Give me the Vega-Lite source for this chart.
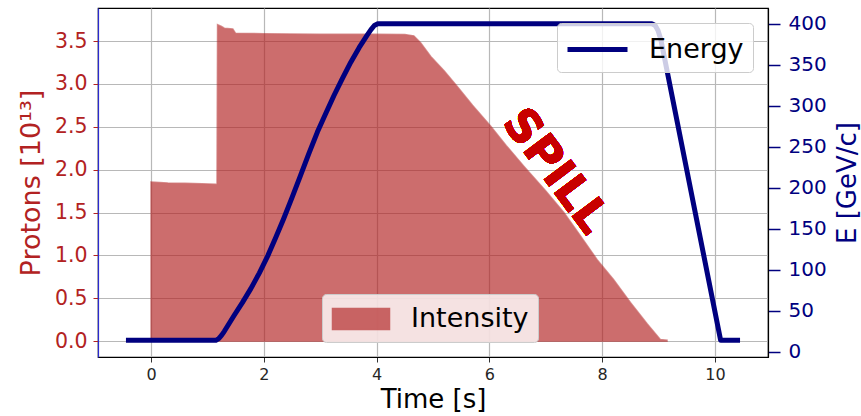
{
  "$schema": "https://vega.github.io/schema/vega-lite/v6.json",
  "width": 670,
  "height": 349,
  "autosize": {"type": "none"},
  "padding": {"left": 98, "top": 8, "right": 93, "bottom": 59},
  "config": {
    "font": "DejaVu Sans",
    "view": {"stroke": "black", "strokeWidth": 1.2},
    "axis": {"gridColor": "#b8b8b8", "gridWidth": 1.2, "labelFont": "DejaVu Sans", "titleFont": "DejaVu Sans", "titleFontWeight": "normal"},
    "legend": {"labelFont": "DejaVu Sans"}
  },
  "datasets": {
    "intensity": [
      {"t": 0.0, "p": 1.855}, {"t": 0.3, "p": 1.845}, {"t": 0.6, "p": 1.84}, {"t": 0.9, "p": 1.835},
      {"t": 1.17, "p": 1.83}, {"t": 1.18, "p": 3.69}, {"t": 1.25, "p": 3.67}, {"t": 1.3, "p": 3.65},
      {"t": 1.45, "p": 3.64}, {"t": 1.5, "p": 3.59}, {"t": 2.0, "p": 3.585}, {"t": 3.0, "p": 3.58},
      {"t": 4.0, "p": 3.58}, {"t": 4.5, "p": 3.575}, {"t": 4.66, "p": 3.56}, {"t": 4.78, "p": 3.48},
      {"t": 4.96, "p": 3.32}, {"t": 5.2, "p": 3.15}, {"t": 5.43, "p": 2.97}, {"t": 5.7, "p": 2.75},
      {"t": 6.02, "p": 2.51}, {"t": 6.3, "p": 2.28}, {"t": 6.61, "p": 2.04}, {"t": 7.0, "p": 1.75},
      {"t": 7.32, "p": 1.5}, {"t": 7.6, "p": 1.24}, {"t": 7.91, "p": 0.95}, {"t": 8.2, "p": 0.72},
      {"t": 8.5, "p": 0.45}, {"t": 8.8, "p": 0.2}, {"t": 9.03, "p": 0.02}, {"t": 9.15, "p": 0.01}
    ],
    "energy": [
      {"t": -0.4, "E": 14}, {"t": 1.15, "E": 14}, {"t": 1.2, "E": 16}, {"t": 1.25, "E": 20},
      {"t": 1.3, "E": 25}, {"t": 1.47, "E": 44}, {"t": 1.62, "E": 60}, {"t": 1.77, "E": 77},
      {"t": 1.92, "E": 96}, {"t": 2.07, "E": 117}, {"t": 2.21, "E": 139}, {"t": 2.35, "E": 162},
      {"t": 2.5, "E": 188}, {"t": 2.65, "E": 215}, {"t": 2.8, "E": 242}, {"t": 2.95, "E": 268},
      {"t": 3.1, "E": 291}, {"t": 3.24, "E": 312}, {"t": 3.39, "E": 333}, {"t": 3.54, "E": 353},
      {"t": 3.69, "E": 371}, {"t": 3.83, "E": 386}, {"t": 3.9, "E": 393}, {"t": 3.96, "E": 398},
      {"t": 4.02, "E": 400}, {"t": 8.88, "E": 400}, {"t": 8.94, "E": 398}, {"t": 8.99, "E": 392},
      {"t": 9.04, "E": 381}, {"t": 10.1, "E": 14}, {"t": 10.4, "E": 14}
    ]
  },
  "layer": [
    {
      "data": {"name": "intensity"},
      "layer": [
        {
          "mark": {"type": "area", "opacity": 0.66, "stroke": "#b22222", "strokeOpacity": 0.75, "strokeWidth": 1.5},
          "encoding": {
            "x": {
              "field": "t", "type": "quantitative",
              "scale": {"domain": [-0.94, 10.94], "nice": false, "zero": false},
              "axis": {
                "values": [0, 2, 4, 6, 8, 10], "format": "d", "labelFontSize": 16, "labelColor": "#262626",
                "tickColor": "#333333", "tickSize": 5, "labelPadding": 4, "labelFlush": false,
                "title": "Time [s]", "titleFontSize": 26, "titleColor": "black", "titlePadding": 4,
                "domainColor": "black", "domainWidth": 1.2, "grid": true
              }
            },
            "y": {
              "field": "p", "type": "quantitative",
              "scale": {"domain": [-0.185, 3.885], "nice": false, "zero": false},
              "axis": {
                "orient": "left", "values": [0, 0.5, 1, 1.5, 2, 2.5, 3, 3.5], "format": ".1f",
                "labelFontSize": 20.5, "labelColor": "#b22222", "tickColor": "#b22222", "tickSize": 5,
                "labelPadding": 6, "title": "Protons [10¹³]", "titleFontSize": 27, "titleColor": "#b22222",
                "titlePadding": 9, "domainColor": "#2a2ad0", "domainWidth": 1.2, "grid": true
              }
            },
            "y2": {"datum": 0},
            "fill": {
              "datum": "Intensity", "type": "nominal",
              "scale": {"range": ["#b22222"]},
              "legend": {
                "orient": "none", "legendX": 224, "legendY": 286, "title": null,
                "labelFontSize": 27, "labelColor": "black", "fillColor": "rgba(255,255,255,0.8)",
                "strokeColor": "#cccccc", "cornerRadius": 4, "padding": 9, "labelOffset": 34,
                "symbolOffset": 14, "symbolType": "M-1.9,-0.7H1.9V0.7H-1.9Z", "symbolSize": 900,
                "symbolStrokeColor": "#b22222", "symbolStrokeWidth": 1.5, "symbolOpacity": 0.66
              }
            }
          }
        },
        {
          "mark": {"type": "text", "text": "SPILL", "angle": 53, "fontSize": 46, "fontWeight": "bold", "color": "#c80000", "align": "center", "baseline": "middle"},
          "encoding": {
            "x": {"datum": 7.17, "type": "quantitative"},
            "y": {"datum": 1.98, "type": "quantitative"}
          }
        }
      ]
    },
    {
      "data": {"name": "energy"},
      "mark": {"type": "line", "strokeWidth": 5, "strokeCap": "square", "strokeJoin": "round"},
      "encoding": {
        "x": {"field": "t", "type": "quantitative", "scale": {"domain": [-0.94, 10.94], "nice": false, "zero": false}},
        "y": {
          "field": "E", "type": "quantitative",
          "scale": {"domain": [-6.35, 419.35], "nice": false, "zero": false},
          "axis": {
            "orient": "right", "values": [0, 50, 100, 150, 200, 250, 300, 350, 400],
            "labelFontSize": 20, "labelColor": "#00007f", "tickColor": "#00007f", "tickSize": 12, "tickWidth": 1.5,
            "labelPadding": 8, "title": "E [GeV/c]", "titleFontSize": 26, "titleColor": "#00007f",
            "titleAngle": 270, "titleBaseline": "top", "titlePadding": 8, "domainColor": "black", "domainWidth": 1.2, "grid": false
          }
        },
        "stroke": {
          "datum": "Energy", "type": "nominal",
          "scale": {"range": ["#00007f"]},
          "legend": {
            "orient": "none", "legendX": 459, "legendY": 15, "title": null,
            "labelFontSize": 27, "labelColor": "black", "fillColor": "rgba(255,255,255,0.8)",
            "strokeColor": "#cccccc", "cornerRadius": 4, "padding": 9, "labelOffset": 34,
            "symbolOffset": 14, "symbolType": "M-2,0H2", "symbolSize": 900, "symbolStrokeWidth": 5, "symbolStrokeColor": "#00007f"
          }
        }
      }
    }
  ],
  "resolve": {"scale": {"y": "independent"}}
}
